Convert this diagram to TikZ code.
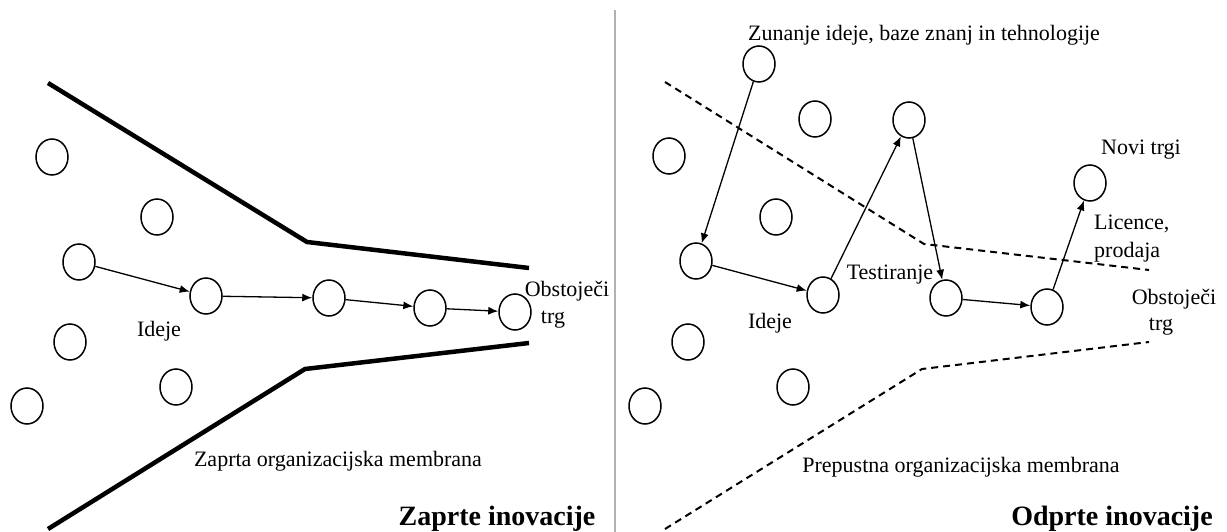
\documentclass[tikz,border=0pt]{standalone}
\usepackage{fontspec}
\setmainfont{Liberation Serif}
\usetikzlibrary{shapes.geometric,arrows.meta}
\begin{document}
\begin{tikzpicture}[x=1pt,y=-1pt,
  idea/.style={draw,ellipse,line width=1.5pt,minimum width=32pt,minimum height=36pt,inner sep=0pt},
  flow/.style={-{Latex[length=10pt,width=8pt]},line width=1.3pt},
  wall/.style={line width=4.5pt},
  porous/.style={line width=2pt,dash pattern=on 7pt off 5pt},
  lbl/.style={font=\fontsize{22}{25}\selectfont,inner sep=0pt},
  ttl/.style={font=\fontsize{28}{31}\selectfont\bfseries,inner sep=0pt}]
\useasboundingbox (0,0) rectangle (1227,532);
% divider
\draw[gray!60,line width=2pt] (615,10) -- (615,532);
% ---------- left: closed innovation ----------
\draw[wall] (48,83) -- (307,242) -- (529,268);
\draw[wall] (48,529) -- (305,369) -- (529,343);
\node[idea] (a) at (52,157) {};
\node[idea] (b) at (157,217) {};
\node[idea] (c) at (79,262) {};
\node[idea] (d) at (206,296) {};
\node[idea] (e) at (329,298) {};
\node[idea] (f) at (430,308) {};
\node[idea] (g) at (515,312) {};
\node[idea] (h) at (70,342) {};
\node[idea] (i) at (176,387) {};
\node[idea] (j) at (27,406) {};
\draw[flow] (c) -- (d);
\draw[flow] (d) -- (e);
\draw[flow] (e) -- (f);
\draw[flow] (f) -- (g);
\node[lbl] (l1) at (159,331) {Ideje};
\node[lbl] (l2) at (567,291) {Obstoječi};
\node[lbl] (l3) at (553,320) {trg};
\node[lbl] (l4) at (338,461) {Zaprta organizacijska membrana};
\node[ttl] (l5) at (497,519) {Zaprte inovacije};
% ---------- right: open innovation ----------
\draw[porous] (665,82) -- (924,244) -- (1149,270);
\draw[porous] (665,529) -- (922,369) -- (1149,342);
\node[idea] (k) at (759,64) {};
\node[idea] (m1) at (815,119) {};
\node[idea] (m) at (909,120) {};
\node[idea] (n) at (669,156) {};
\node[idea] (o) at (1090,183) {};
\node[idea] (p) at (776,217) {};
\node[idea] (q) at (696,261) {};
\node[idea] (r) at (823,295) {};
\node[idea] (s) at (946,298) {};
\node[idea] (t) at (1047,307) {};
\node[idea] (u) at (688,342) {};
\node[idea] (v) at (793,387) {};
\node[idea] (w) at (645,406) {};
\draw[flow] (k) -- (q);
\draw[flow] (q) -- (r);
\draw[flow] (r) -- (m);
\draw[flow] (m) -- (s);
\draw[flow] (s) -- (t);
\draw[flow] (t) -- (o);
\node[lbl] (r1) at (924,35) {Zunanje ideje, baze znanj in tehnologije};
\node[lbl] (r2) at (1141,150) {Novi trgi};
\node[lbl,anchor=west] (r3) at (1094,224) {Licence,};
\node[lbl,anchor=west] (r4) at (1094,252) {prodaja};
\node[lbl] (r5) at (890,275) {Testiranje};
\node[lbl] (r6) at (770,323) {Ideje};
\node[lbl] (r7) at (1174,299) {Obstoječi};
\node[lbl] (r8) at (1161,327) {trg};
\node[lbl] (r9) at (961,467) {Prepustna organizacijska membrana};
\node[ttl] (r10) at (1112,519) {Odprte inovacije};
\end{tikzpicture}
\end{document}
